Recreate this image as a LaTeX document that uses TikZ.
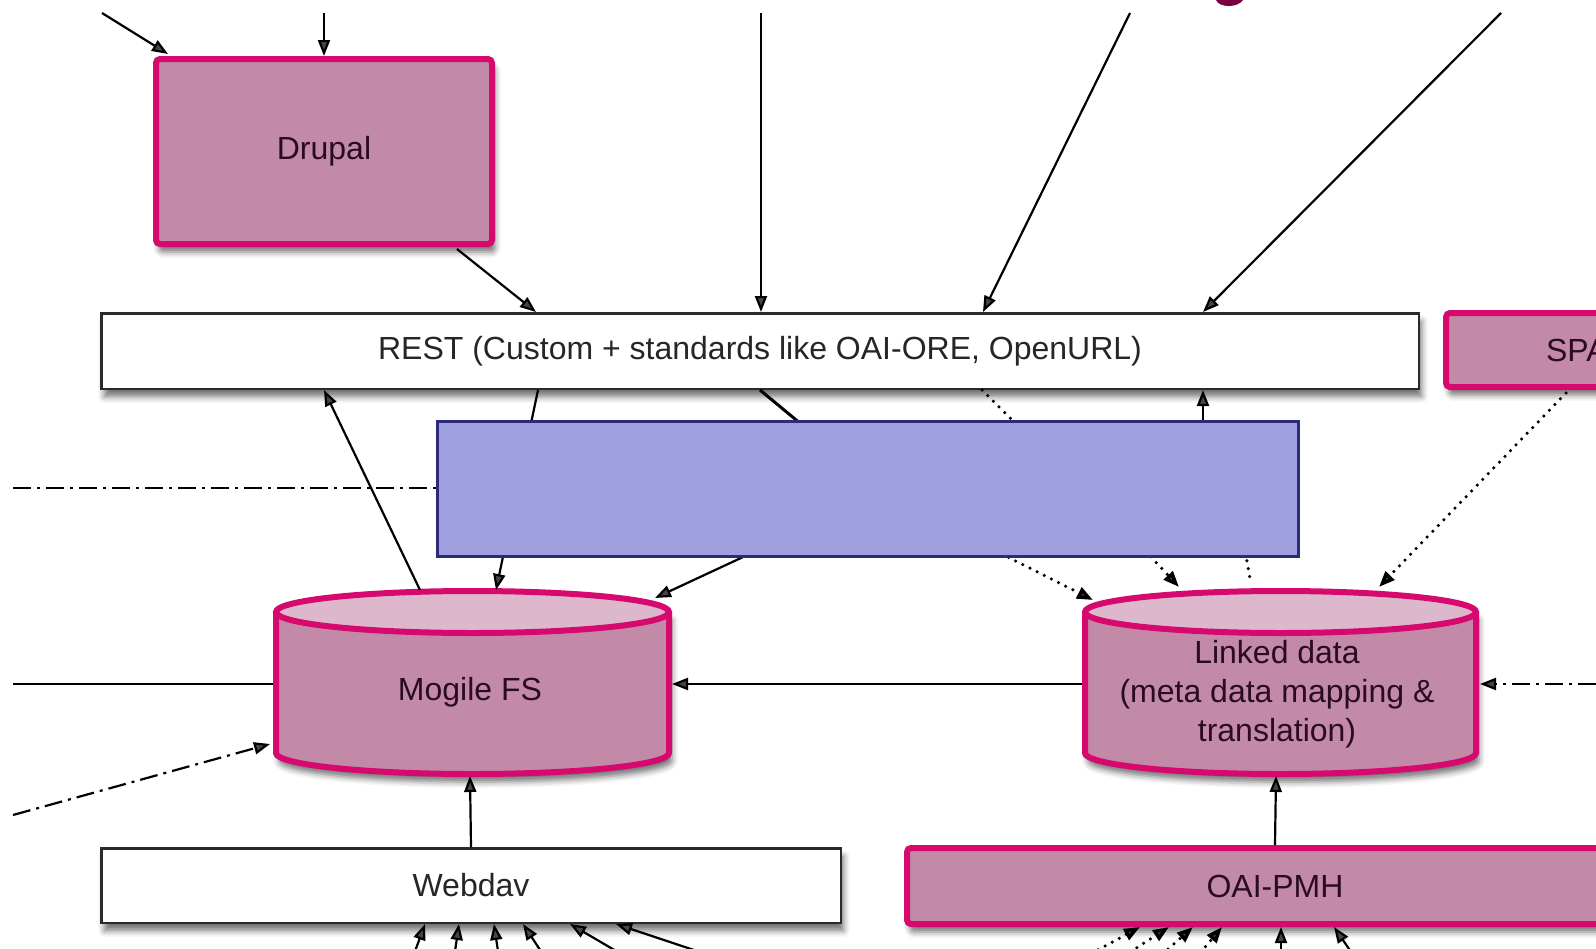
\documentclass[tikz,border=0pt]{standalone}
\usepackage{fontspec}
\setmainfont{Liberation Sans}
\usetikzlibrary{arrows.meta,shadows.blur,calc}
\definecolor{mag}{HTML}{D60A6E}
\definecolor{mauve}{HTML}{C38AA8}
\definecolor{mauvetop}{HTML}{DDB8CC}
\definecolor{bluefill}{HTML}{A09FDF}
\definecolor{blueline}{HTML}{2E2A7A}
\definecolor{txtcol}{HTML}{2A0B22}
\definecolor{titlecol}{HTML}{7A0040}
\definecolor{edgecol}{HTML}{2A2A2A}
\newcommand\mycyl[4]{%
  \fill[mauve, blur shadow={shadow xshift=3pt, shadow yshift=-8pt, shadow blur radius=6pt, shadow opacity=55}]
    (#1-#2,#3) -- (#1-#2,#4) arc[start angle=180, end angle=0, x radius=#2, y radius=21] -- (#1+#2,#3) -- cycle;
  \filldraw[fill=mauvetop, draw=mag, line width=6pt] (#1,#3) ellipse [x radius=#2, y radius=21];
  \draw[mag, line width=6pt, line join=round]
    (#1-#2,#3) -- (#1-#2,#4) arc[start angle=180, end angle=0, x radius=#2, y radius=21] -- (#1+#2,#3);
}
\begin{document}
\begin{tikzpicture}[x=1pt, y=-1pt,
  font=\fontsize{32}{39}\selectfont,
  shad/.style={blur shadow={shadow xshift=3pt, shadow yshift=-8pt, shadow blur radius=6pt, shadow opacity=55}},
  pinkbox/.style={draw=mag, line width=6pt, fill=mauve, rounded corners=4pt, text=txtcol, shad},
  whitebox/.style={draw=edgecol, line width=2.5pt, fill=white, text=black!85, shad},
  arr/.style={line width=2.2pt, -{Triangle[length=16pt,width=12pt]}},
  plainline/.style={line width=2.2pt},
  dotline/.style={line width=3.5pt, dash pattern=on 0pt off 8pt, line cap=round},
  dotarr/.style={dotline, -{Triangle[length=16pt,width=12pt]}},
  dashdot/.style={line width=2.2pt, dash pattern=on 18pt off 6pt on 3pt off 6pt},
  dasharr/.style={dashdot, -{Triangle[length=16pt,width=12pt]}},
  cover/.style={draw=blueline, fill=bluefill, line width=3pt},
]
\useasboundingbox (0,0) rectangle (1596,948);
\clip (0,0) rectangle (1596,948);

% title fragment
\fill[titlecol] (1216,0) .. controls (1219,8) and (1238,8) .. (1243,0) -- cycle;

% boxes
\node[pinkbox, minimum width=336pt, minimum height=185pt] (drupal) at (324,151.5) {Drupal};
\node[whitebox, minimum width=1317.5pt, minimum height=75.5pt] (rest) at (760,351) {REST (Custom + standards like OAI-ORE, OpenURL)};
\node[pinkbox, anchor=west, minimum height=74pt, text width=200pt, align=left, inner xsep=100pt] (spa) at (1443,350) {SPA};
\node[whitebox, minimum width=739.5pt, minimum height=74.5pt] (webdav) at (471,885.5) {Webdav};
\node[pinkbox, minimum width=736pt, minimum height=76pt] (oai) at (1275,886) {OAI-PMH};

% cylinders
\mycyl{472.5}{196.5}{612}{753}
\mycyl{1280.5}{195.5}{612}{753}
\node[text=txtcol] (mog) at (470,692) {Mogile FS};
\node[text=txtcol, align=center] (linked) at (1277,694) {Linked data\\(meta data mapping \&\\translation)};

% named end points
\coordinate (t1) at (102,13);
\coordinate (t2) at (324,13);
\coordinate (t3) at (761,13);
\coordinate (t4) at (1130,13);
\coordinate (t5) at (1501,13);
\coordinate (drupalNW) at (168,54);
\coordinate (drupalSE) at (457,249);
\coordinate (mogNa) at (496,590);
\coordinate (mogNb) at (420,590);
\coordinate (mogNE) at (655,598);
\coordinate (mogE) at (672,684);
\coordinate (mogW) at (273,684);
\coordinate (mogSW) at (270,744);
\coordinate (mogS) at (470,776);
\coordinate (linNa) at (1093,600);
\coordinate (linNb) at (1179,587);
\coordinate (linNc) at (1251,584);
\coordinate (linNd) at (1379,587);
\coordinate (linW) at (1082,684);
\coordinate (linE) at (1480,684);
\coordinate (linS) at (1276,776);
\coordinate (spaS) at (1566,393);
\coordinate (l1) at (13,684);
\coordinate (l2) at (13,815);
\coordinate (l3) at (13,488);
\coordinate (r1) at (1596,684);
% points hidden under the cover
\coordinate (h1) at (830,448);
\coordinate (h2) at (786,537);
\coordinate (h3) at (1030,438);
\coordinate (h4) at (980,543);
\coordinate (h5) at (1140,545);
\coordinate (h6) at (1244,545);
\coordinate (h7) at (1203,440);

% top connectors
\draw[arr] (t1) -- (drupalNW);
\draw[arr] (t2) -- (drupal.north);
\draw[arr] (drupalSE) -- (536,0 |- rest.north);
\draw[arr] (t3) -- (761,0 |- rest.north);
\draw[arr] (t4) -- (983,0 |- rest.north);
\draw[arr] (t5) -- (1203,0 |- rest.north);

% between REST and the stores
\draw[arr] (538,0 |- rest.south) -- (mogNa);
\draw[arr] (mogNb) -- (324,0 |- rest.south);
\draw[plainline, line width=3pt] (760,0 |- rest.south) -- (h1);
\draw[arr] (h2) -- (mogNE);
\draw[dotline] (982,0 |- rest.south) -- (h3);
\draw[dotarr] (h4) -- (linNa);
\draw[dotarr] (h5) -- (linNb);
\draw[dotline] (h6) -- (linNc);
\draw[arr] (h7) -- (1203,0 |- rest.south);
\draw[dotarr] (spaS) -- (linNd);
\draw[dashdot] (l3) -- (l3 -| 436,0);

% side connectors
\draw[arr] (linW) -- (mogE);
\draw[plainline] (l1) -- (mogW);
\draw[dasharr] (l2) -- (mogSW);
\draw[dasharr] (r1) -- (linE);

% bottom connectors
\draw[arr] (webdav.north) -- (mogS);
\draw[arr] (oai.north) -- (linS);
\draw[arr] (410,965) -- (425,0 |- webdav.south);
\draw[arr] (453,965) -- (459,0 |- webdav.south);
\draw[arr] (500,965) -- (494,0 |- webdav.south);
\draw[arr] (550,965) -- (523,0 |- webdav.south);
\draw[arr] (640,965) -- (570,0 |- webdav.south);
\draw[arr] (730,962) -- (616,0 |- webdav.south);
\draw[dotarr] (1070,965) -- (1140,0 |- oai.south);
\draw[dotarr] (1110,965) -- (1169,0 |- oai.south);
\draw[dotarr] (1150,965) -- (1193,0 |- oai.south);
\draw[dotarr] (1190,965) -- (1222,0 |- oai.south);
\draw[arr] (1281,965) -- (1281,0 |- oai.south);
\draw[arr] (1360,965) -- (1334,0 |- oai.south);

% the blue cover on top
\node[cover, minimum width=861pt, minimum height=135pt] (coverbox) at (868,489) {};
\end{tikzpicture}
\end{document}
